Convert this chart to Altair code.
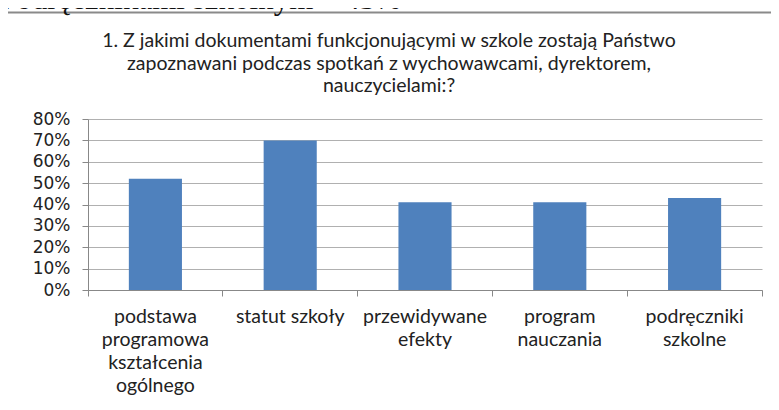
import altair as alt
import pandas as pd

categories = [
    "podstawa|programowa|kształcenia|ogólnego",
    "statut szkoły",
    "przewidywane|efekty",
    "program|nauczania",
    "podręczniki|szkolne",
]
values = [0.52, 0.70, 0.41, 0.41, 0.43]
y_ticks = [0, 0.1, 0.2, 0.3, 0.4, 0.5, 0.6, 0.7, 0.8]
title_lines = [
    "1. Z jakimi dokumentami funkcjonującymi w szkole zostają Państwo",
    "zapoznawani podczas spotkań z wychowawcami, dyrektorem,",
    "nauczycielami:?",
]
top_text = "Podręcznikami szkolnym – 43%"

df = pd.DataFrame({"cat": categories, "val": values})

W, H = 674, 171

bars = alt.Chart(df).mark_bar(color="#4f81bd", width=alt.RelativeBandSize(0.394)).encode(
    x=alt.X(
        "cat:N",
        sort=categories,
        scale=alt.Scale(paddingInner=0, paddingOuter=0),
        axis=alt.Axis(
            title=None,
            labelAngle=0,
            bandPosition=1,
            tickExtra=True,
            labelExpr="split(datum.label, '|')",
            labelFont="Lato",
            labelFontSize=19.5,
            labelLineHeight=23,
            labelPadding=11,
            labelColor="#222222",
            domainColor="#888888",
            tickColor="#888888",
            tickSize=6,
            grid=False,
        ),
    ),
    y=alt.Y(
        "val:Q",
        scale=alt.Scale(domain=[0, 0.8]),
        axis=alt.Axis(
            title=None,
            values=y_ticks,
            format=".0%",
            labelFont="DejaVu Sans",
            labelFontSize=17,
            labelColor="#222222",
            labelPadding=12,
            domainColor="#888888",
            tickColor="#888888",
            tickSize=6,
            gridColor="#b0b0b0",
        ),
    ),
)

frame_df = pd.DataFrame({"k": [0]})
border = alt.Chart(frame_df).mark_rect(filled=False, stroke="#8a8a8a", strokeWidth=2).encode(
    x=alt.value(-81), x2=alt.value(720), y=alt.value(-106.5), y2=alt.value(330)
)
toptxt = alt.Chart(frame_df).mark_text(
    text=top_text, font="Liberation Serif", fontSize=31, align="left", baseline="alphabetic", color="#111111"
).encode(x=alt.value(-89), y=alt.value(-110))
title = alt.Chart(frame_df).mark_text(
    text=title_lines, font="Lato", fontSize=19.5, lineHeight=22.5, align="center", baseline="top", color="#222222"
).encode(x=alt.value(301), y=alt.value(-87))

chart = alt.layer(border, toptxt, title, bars).properties(
    width=W,
    height=H,
    autosize=alt.AutoSizeParams(type="none"),
    padding={"left": 80, "top": 111, "right": 9, "bottom": 112},
).configure_view(strokeWidth=0)

chart.save("out.html", embed_options={"renderer": "svg", "actions": False})
